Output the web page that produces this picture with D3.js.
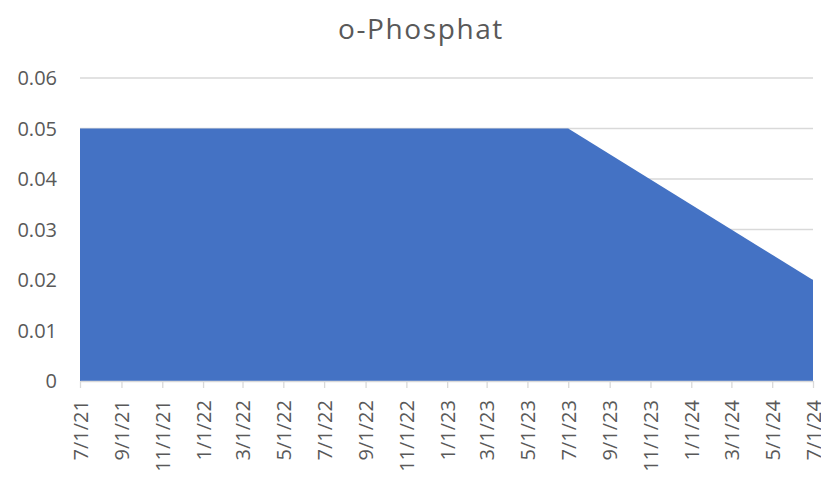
<!DOCTYPE html>
<html>
<head>
<meta charset="utf-8">
<script src="https://cdn.jsdelivr.net/npm/d3@7"></script>
<style>
  body { margin: 0; background: #fff; }
  text { font-family: "Open Sans", "Liberation Sans", sans-serif; fill: #595959; }
</style>
</head>
<body>
<div id="chart"></div>
<script>
'use strict';

// Data
var dates = ['2021-07-01', '2023-07-01', '2024-07-01'];
var values = [0.05, 0.05, 0.02];
var yTicks = [0, 0.01, 0.02, 0.03, 0.04, 0.05, 0.06];
var xTickLabels = ['7/1/21', '9/1/21', '11/1/21', '1/1/22', '3/1/22', '5/1/22', '7/1/22',
  '9/1/22', '11/1/22', '1/1/23', '3/1/23', '5/1/23', '7/1/23', '9/1/23', '11/1/23',
  '1/1/24', '3/1/24', '5/1/24', '7/1/24'];
var title = 'o-Phosphat';

var width = 821, height = 481;
var margin = { left: 80, right: 8, top: 78, bottom: 100 };

var parse = d3.timeParse('%Y-%m-%d');
var parseTick = d3.timeParse('%m/%d/%y');
var points = dates.map(function (d, i) { return { date: parse(d), value: values[i] }; });

var svg = d3.select('#chart').append('svg')
  .attr('width', width)
  .attr('height', height);

var x = d3.scaleTime()
  .domain([parse(dates[0]), parse(dates[dates.length - 1])])
  .range([margin.left, width - margin.right]);

var y = d3.scaleLinear()
  .domain([0, 0.06])
  .range([height - margin.bottom, margin.top]);

// title
svg.append('text')
  .attr('x', 421)
  .attr('y', 39)
  .attr('text-anchor', 'middle')
  .style('font-size', '28px')
  .style('letter-spacing', '1.6px')
  .text(title);

// gridlines
svg.append('g')
  .selectAll('line')
  .data(yTicks.slice(1))
  .enter().append('line')
  .attr('x1', margin.left)
  .attr('x2', width - margin.right)
  .attr('y1', function (d) { return y(d); })
  .attr('y2', function (d) { return y(d); })
  .attr('stroke', '#d9d9d9')
  .attr('stroke-width', 1.3);

// area
var area = d3.area()
  .x(function (d) { return x(d.date); })
  .y0(y(0))
  .y1(function (d) { return y(d.value); });

svg.append('path')
  .datum(points)
  .attr('d', area)
  .attr('fill', '#4472c4');

// y axis labels
svg.append('g')
  .selectAll('text')
  .data(yTicks)
  .enter().append('text')
  .attr('x', 57)
  .attr('y', function (d) { return y(d); })
  .attr('dy', '0.35em')
  .attr('text-anchor', 'end')
  .style('font-size', '20px')
  .text(function (d) { return d === 0 ? '0' : d3.format('.2f')(d); });

// x axis
var xAxis = d3.axisBottom(x)
  .tickValues(xTickLabels.map(function (t) { return parseTick(t); }))
  .tickFormat(function (d, i) { return xTickLabels[i]; })
  .tickSize(7)
  .tickSizeOuter(0);

var gx = svg.append('g')
  .attr('transform', 'translate(0,' + y(0) + ')')
  .call(xAxis);

gx.select('.domain').attr('stroke', '#d9d9d9').attr('stroke-width', 1.3);
gx.selectAll('.tick line').attr('stroke', '#d9d9d9').attr('stroke-width', 1.3);
gx.selectAll('.tick text')
  .attr('transform', 'rotate(-90)')
  .attr('x', -19)
  .attr('y', 0)
  .attr('dy', '0.35em')
  .attr('text-anchor', 'end')
  .style('font-size', '20px')
  .style('font-family', '"Open Sans", "Liberation Sans", sans-serif')
  .attr('fill', '#595959');
</script>
</body>
</html>
